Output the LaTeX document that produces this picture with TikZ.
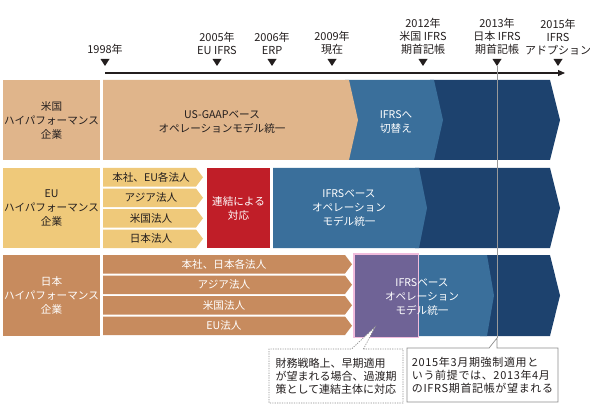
\documentclass[tikz,border=0pt]{standalone}
\usepackage{fontspec}
\setmainfont{Noto Sans CJK JP}
\newfontfamily\notefont[LetterSpace=6]{Noto Sans CJK JP}
\usetikzlibrary{arrows.meta, shapes.callouts}

\definecolor{usTan}{RGB}{224,181,139}
\definecolor{euGold}{RGB}{239,201,122}
\definecolor{jpBrown}{RGB}{199,139,94}
\definecolor{ifrsBlue}{RGB}{58,111,155}
\definecolor{ifrsNavy}{RGB}{29,66,110}
\definecolor{consRed}{RGB}{192,30,40}
\definecolor{earlyPurple}{RGB}{111,99,150}
\definecolor{earlyPink}{RGB}{241,188,220}
\definecolor{inkGray}{RGB}{35,30,30}

% chevron bar: colour, left x, right x (top edge), top y, bottom y, tip depth
\newcommand{\chevbar}[6]{\fill[#1] (#2,#4) -- (#3,#4) -- ({#3+#6},{(#4+#5)/2}) -- (#3,#5) -- (#2,#5) -- cycle;}

\begin{document}
\begin{tikzpicture}[
        x=1pt, y=-1pt,
        >={Triangle[length=7pt,width=6pt]},
        every node/.style={font=\fontsize{10.6}{14}\selectfont, text=inkGray, align=center, inner sep=0pt},
        yearlabel/.style={font=\fontsize{11}{13}\selectfont, anchor=south},
        rowlabel/.style={minimum width=97pt, minimum height=80pt},
        notebox/.style={rectangle callout, minimum height=54pt, fill=white, align=left, line width=0.7pt}
    ]
    \useasboundingbox (0,0) rectangle (590,420);

    % Time axis
    \coordinate (tStart) at (105,73);
    \coordinate (tEnd) at (565,73);
    \draw[->, line width=1.1pt, inkGray] (tStart) -- (tEnd);

    \foreach \x/\yr/\txt in {105/1998/{1998年}, 217/2005/{2005年\\EU IFRS}, 272/2006/{2006年\\ERP},
            332/2009/{2009年\\現在}, 423/2012/{2012年\\米国 IFRS\\期首記帳},
            497/2013/{2013年\\日本 IFRS\\期首記帳}, 558/2015/{2015年\\IFRS\\アドプション}} {
        \fill[inkGray] (\x-4.5,59) -- (\x+4.5,59) -- (\x,66) -- cycle;
        \coordinate (m\yr) at (\x,66);
        \node[yearlabel] (y\yr) at (\x,55) {\txt};
    }

    % US row
    \chevbar{ifrsNavy}{430}{550}{80}{160}{10}
    \chevbar{ifrsBlue}{345}{434}{80}{160}{9}
    \chevbar{usTan}{103}{349}{80}{160}{9}
    \node[rowlabel, fill=usTan] (usLabel) at (51.5,120) {米国\\ハイパフォーマンス\\企業};
    \node (usGaap) at (222,122) {US-GAAPベース\\オペレーションモデル統一};
    \node[text=white] (usIfrs) at (396,122) {IFRSへ\\切替え};

    % EU row
    \chevbar{ifrsNavy}{415}{550}{168}{248}{10}
    \chevbar{ifrsBlue}{273}{419}{168}{248}{8}
    \node[rowlabel, fill=euGold] (euLabel) at (51.5,208) {EU\\ハイパフォーマンス\\企業};
    \foreach \t [count=\i from 0] in {本社、EU各法人, アジア法人, 米国法人, 日本法人} {
        \pgfmathsetmacro\barTop{168+\i*20.5}
        \pgfmathsetmacro\barBot{\barTop+18.5}
        \pgfmathsetmacro\barMid{\barTop+9.25}
        \chevbar{euGold}{103}{196}{\barTop}{\barBot}{7}
        \node (eu\i) at (151,\barMid) {\t};
    }
    \node[fill=consRed, minimum width=63pt, minimum height=80pt, text=white] (euConsol) at (238.5,208) {連結による\\対応};
    \node[text=white] (euIfrs) at (349,208) {IFRSベース\\オペレーション\\モデル統一};

    % Japan row
    \chevbar{ifrsNavy}{480}{550}{255}{336}{10}
    \chevbar{ifrsBlue}{353}{487}{255}{336}{7}
    \node[rowlabel, minimum height=81pt, fill=jpBrown, text=white] (jpLabel) at (51.5,295.5) {日本\\ハイパフォーマンス\\企業};
    \foreach \t [count=\i from 0] in {本社、日本各法人, アジア法人, 米国法人, EU法人} {
        \pgfmathsetmacro\barTop{255+\i*20.5}
        \pgfmathsetmacro\barBot{\barTop+18.5}
        \pgfmathsetmacro\barMid{\barTop+9.25}
        \chevbar{jpBrown}{103}{345}{\barTop}{\barBot}{7}
        \node[text=white] (jp\i) at (224,\barMid) {\t};
    }
    \node[fill=earlyPurple, draw=earlyPink, line width=1.5pt, minimum width=64.5pt, minimum height=83.5pt] (jpEarly) at (386,295.5) {};
    \node[text=white] (jpIfrs) at (422,297) {IFRSベース\\オペレーション\\モデル統一};

    % Notes
    \draw[gray!80, line width=0.6pt] (m2013) -- (497,338);
    \node[notebox, draw=gray!90, dash pattern=on 1.2pt off 1.2pt, minimum width=134pt, callout absolute pointer={(375,327)},
        callout pointer width=12pt, font=\fontsize{11}{13}\selectfont] (note1) at (336,376)
        {財務戦略上、早期適用\\が望まれる場合、過渡期\\策として連結主体に対応};
    \node[notebox, draw=gray!90, minimum width=151pt, callout absolute pointer={(497,338)},
        callout pointer width=8pt, font=\notefont\fontsize{11}{13}\selectfont] (note2) at (482.5,375)
        {2015年3月期強制適用と\\いう前提では、2013年4月\\のIFRS期首記帳が望まれる};

\end{tikzpicture}
\end{document}
